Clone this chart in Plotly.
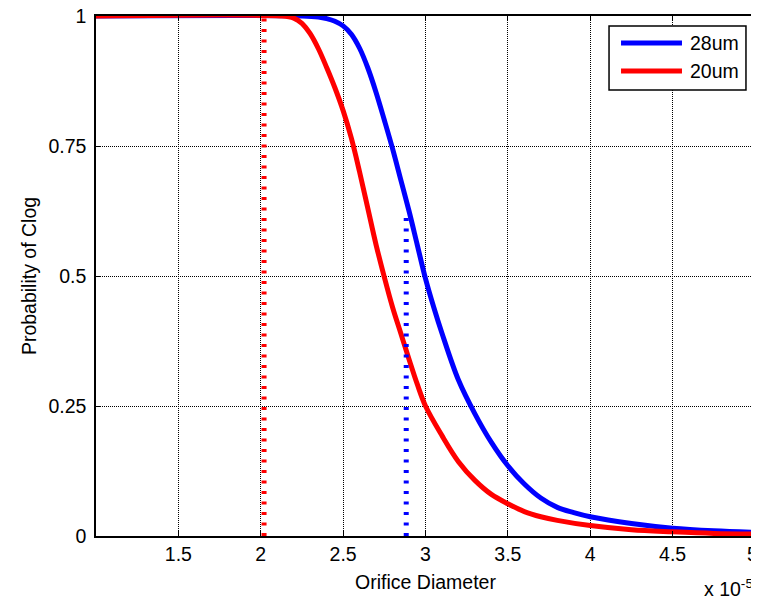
import plotly.graph_objects as go

# Orifice diameter in units of 1e-5 m
blue_x = [1.0, 2.25, 2.35, 2.40, 2.45, 2.50, 2.55, 2.60, 2.65, 2.70, 2.75, 2.80, 2.85, 2.90, 2.95, 3.0,
          3.05, 3.1, 3.2, 3.3, 3.4, 3.5, 3.6, 3.7, 3.8, 3.9, 4.0, 4.25, 4.5, 4.75, 5.0]
blue_y = [1.0, 1.0, 0.998, 0.995, 0.99, 0.981, 0.965, 0.938, 0.90, 0.853, 0.80, 0.745, 0.685, 0.625, 0.56, 0.495,
          0.44, 0.39, 0.30, 0.235, 0.18, 0.135, 0.10, 0.073, 0.055, 0.045, 0.037, 0.024, 0.015, 0.010, 0.007]

red_x = [1.0, 2.12, 2.20, 2.25, 2.30, 2.35, 2.40, 2.45, 2.50, 2.55, 2.60, 2.65, 2.70, 2.75, 2.80, 2.85, 2.90,
         2.95, 3.0, 3.1, 3.2, 3.3, 3.4, 3.5, 3.6, 3.7, 3.8, 4.0, 4.25, 4.5, 4.75, 5.0]
red_y = [1.0, 1.0, 0.996, 0.986, 0.966, 0.937, 0.901, 0.862, 0.818, 0.765, 0.70, 0.63, 0.56, 0.498, 0.44, 0.39, 0.34,
         0.292, 0.25, 0.193, 0.143, 0.107, 0.08, 0.062, 0.047, 0.037, 0.03, 0.02, 0.012, 0.008, 0.005, 0.004]

red_mark_x = [2.02, 2.02]
red_mark_y = [0.0, 1.0]
blue_mark_x = [2.883, 2.883]
blue_mark_y = [0.0, 0.625]

series_names = ["28um", "20um"]

x_ticks = [1.5, 2, 2.5, 3, 3.5, 4, 4.5, 5]
x_ticklabels = ["1.5", "2", "2.5", "3", "3.5", "4", "4.5", "5&nbsp;"]
y_ticks = [0, 0.25, 0.5, 0.75, 1]
y_ticklabels = ["0", "0.25", "0.5", "0.75", "1"]

BLUE = "#0000ff"
RED = "#ff0000"
FONT = "Liberation Sans, Arial, sans-serif"
FS = 19.5

fig = go.Figure()
fig.add_trace(go.Scatter(x=blue_x, y=blue_y, mode="lines", name=series_names[0], showlegend=False,
                         line=dict(color=BLUE, width=5, shape="spline", smoothing=1.0),
                         cliponaxis=False))
fig.add_trace(go.Scatter(x=red_x, y=red_y, mode="lines", name=series_names[1], showlegend=False,
                         line=dict(color=RED, width=5, shape="spline", smoothing=1.0),
                         cliponaxis=False))
fig.add_trace(go.Scatter(x=red_mark_x, y=red_mark_y, mode="lines", showlegend=False,
                         line=dict(color=RED, width=5, dash="3px,7.5px")))
fig.add_trace(go.Scatter(x=blue_mark_x, y=blue_mark_y, mode="lines", showlegend=False,
                         line=dict(color=BLUE, width=5, dash="3px,7.5px")))

axis_common = dict(
    showline=True, linecolor="black", linewidth=1.5, mirror="allticks",
    ticks="inside", ticklen=5, tickcolor="black", tickwidth=1,
    showgrid=True, gridcolor="black", gridwidth=1, griddash="1px,1px",
    zeroline=False, tickfont=dict(size=FS, color="black", family=FONT),
    automargin=False, ticklabeloverflow="allow",
)

fig.update_xaxes(range=[1, 5], tickvals=x_ticks, ticktext=x_ticklabels, ticklabelstandoff=0,
                 title=dict(text="Orifice Diameter", font=dict(size=FS, color="black", family=FONT), standoff=11),
                 **axis_common)
fig.update_yaxes(range=[0, 1], tickvals=y_ticks, ticktext=y_ticklabels, ticklabelstandoff=4,
                 title=dict(text="Probability of Clog", font=dict(size=FS, color="black", family=FONT), standoff=7),
                 **axis_common)

fig.add_annotation(text="x 10<sup>-5</sup>", xref="paper", yref="paper", x=1.0, y=-0.074,
                   xanchor="right", yanchor="top", showarrow=False,
                   font=dict(size=FS, color="black", family=FONT))

# Legend box (MATLAB style), in paper coordinates
fig.add_shape(type="rect", xref="paper", yref="paper", x0=0.7785, x1=0.9863, y0=0.8577, y1=0.9808,
              line=dict(color="black", width=1.5), fillcolor="white", layer="above")
legend_y = [0.948, 0.8942]
legend_colors = [BLUE, RED]
for name, ly, col in zip(series_names, legend_y, legend_colors):
    fig.add_shape(type="line", xref="paper", yref="paper", x0=0.7967, x1=0.8892, y0=ly, y1=ly,
                  line=dict(color=col, width=5), layer="above")
    fig.add_annotation(text=name, xref="paper", yref="paper", x=0.8983, y=ly, xanchor="left",
                       yanchor="middle", showarrow=False,
                       font=dict(size=FS, color="black", family=FONT))

fig.update_layout(
    width=751, height=589,
    margin=dict(l=88, r=4, t=8, b=61, autoexpand=False),
    paper_bgcolor="white", plot_bgcolor="white",
    font=dict(family=FONT, size=FS, color="black"),
    showlegend=False,
)

fig.write_html("out.html")
